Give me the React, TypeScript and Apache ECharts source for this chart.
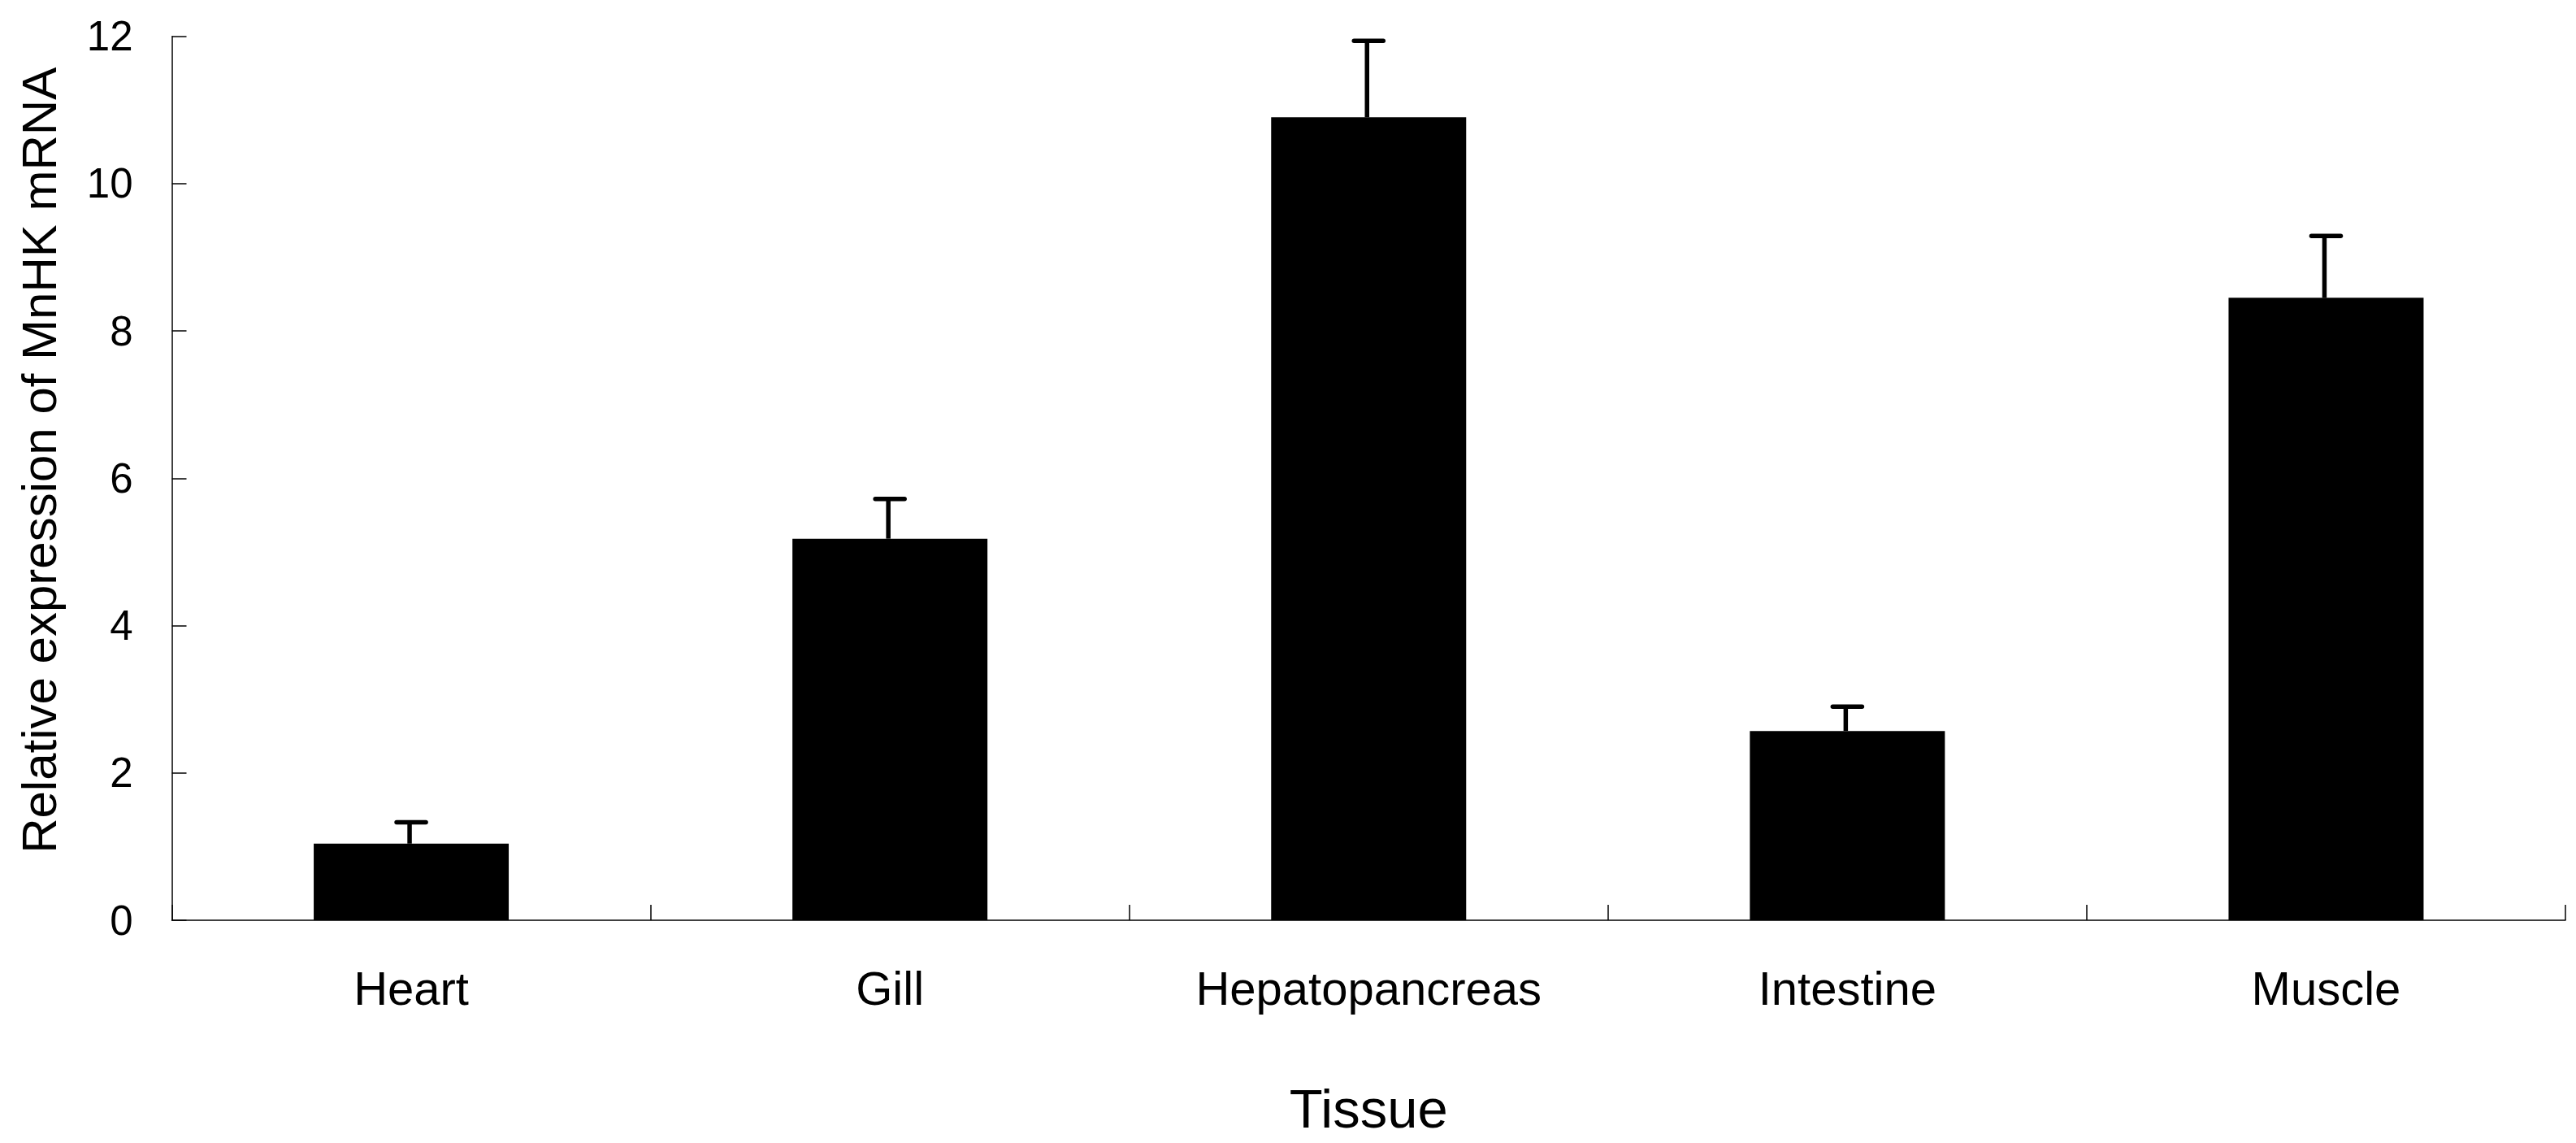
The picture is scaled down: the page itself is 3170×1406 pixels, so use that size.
import React, { useEffect, useRef } from "react";
import * as echarts from "echarts";

const categories = ["Heart", "Gill", "Hepatopancreas", "Intestine", "Muscle"];
const means = [1.04, 5.18, 10.9, 2.57, 8.45];
const errors = [0.29, 0.54, 1.04, 0.33, 0.84];
const yTicks = [0, 2, 4, 6, 8, 10, 12];
const xTitle = "Tissue";
const yTitle = "Relative expression of MnHK mRNA";

const FONT = "Arial, 'Liberation Sans', Helvetica, sans-serif";

export default function App() {
  const ref = useRef<HTMLDivElement>(null);
  useEffect(() => {
    if (!ref.current) return;
    const chart = echarts.init(ref.current, undefined, { renderer: "svg" });
    const errData = categories.map((c, i) => [i, means[i], means[i] + errors[i]]);
    chart.setOption({
      animation: false,
      backgroundColor: "#ffffff",
      grid: { left: 211.5, top: 44.7, width: 2945.5, height: 1087.3, containLabel: false },
      xAxis: {
        type: "category",
        data: categories,
        name: xTitle,
        nameLocation: "middle",
        nameGap: 198,
        nameTextStyle: { fontFamily: FONT, fontSize: 67, color: "#000" },
        axisLine: { lineStyle: { color: "#000", width: 1.5 } },
        axisTick: { show: true, inside: true, length: 19, lineStyle: { color: "#000", width: 1.5 } },
        axisLabel: { fontFamily: FONT, fontSize: 58, color: "#000", margin: 54 },
      },
      yAxis: {
        type: "value",
        min: yTicks[0],
        max: yTicks[yTicks.length - 1],
        interval: yTicks[1] - yTicks[0],
        name: yTitle,
        nameLocation: "middle",
        nameGap: 133,
        nameTextStyle: { fontFamily: FONT, fontSize: 60, color: "#000", padding: [0, 0, 0, 44] },
        axisLine: { show: true, lineStyle: { color: "#000", width: 1.5 } },
        axisTick: { show: true, inside: true, length: 18, lineStyle: { color: "#000", width: 1.5 } },
        splitLine: { show: false },
        axisLabel: {
          fontFamily: FONT,
          fontSize: 51,
          color: "#000",
          margin: 48,
          padding: [0, 0, 8, 0],
        },
      },
      series: [
        {
          type: "bar",
          data: means,
          barWidth: 240,
          itemStyle: { color: "#000" },
        },
        {
          type: "custom",
          data: errData,
          z: 5,
          renderItem: (params: any, api: any) => {
            const x = api.value(0);
            const top = api.coord([x, api.value(2)]);
            const base = api.coord([x, api.value(1)]);
            const half = 18;
            return {
              type: "group",
              children: [
                {
                  type: "line",
                  shape: { x1: top[0] - 2, y1: top[1], x2: base[0] - 2, y2: base[1] },
                  style: { stroke: "#000", lineWidth: 5.5 },
                },
                {
                  type: "line",
                  shape: { x1: top[0] - half, y1: top[1], x2: top[0] + half, y2: top[1] },
                  style: { stroke: "#000", lineWidth: 5.5, lineCap: "round" },
                },
              ],
            };
          },
        },
      ],
    });
    return () => chart.dispose();
  }, []);
  return (
    <div
      ref={ref}
      style={{ position: "absolute", left: 0, top: 0, width: 3170, height: 1406, background: "#fff" }}
    />
  );
}
